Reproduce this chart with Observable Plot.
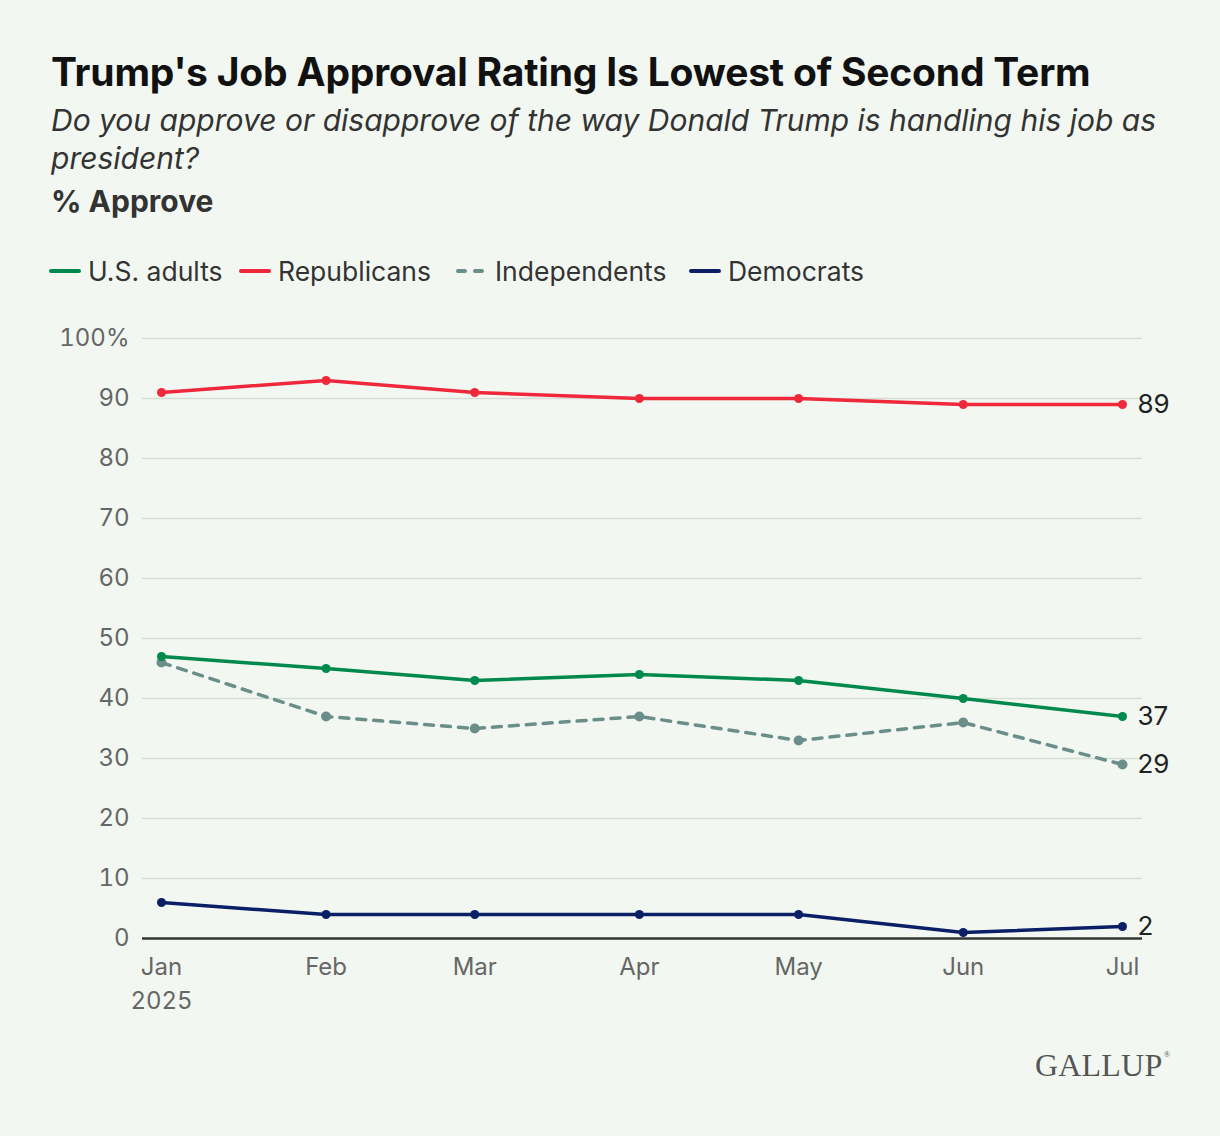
<!DOCTYPE html>
<html>
<head>
<meta charset="utf-8">
<script src="https://cdn.jsdelivr.net/npm/d3@7"></script>
<script src="https://cdn.jsdelivr.net/npm/@observablehq/plot@0.6"></script>
<style>
  html, body { margin: 0; padding: 0; background: #f2f8f1; }
  #root { position: relative; width: 1220px; height: 1136px; background: #f2f8f1; font-family: Inter, "Noto Sans", sans-serif; overflow: hidden; }
  .title { position: absolute; left: 51px; top: 48px; font-size: 39px; font-weight: 700; color: #111; letter-spacing: -0.2px; white-space: nowrap; }
  .subtitle { position: absolute; left: 51px; top: 101px; font-size: 30px; font-style: italic; color: #333; line-height: 38px; width: 1140px; }
  .unit { position: absolute; left: 51px; top: 183px; font-size: 30px; font-weight: 700; color: #333; }
  .legend { position: absolute; left: 0; top: 254px; width: 1220px; height: 34px; font-size: 26.5px; color: #333; }
  .legend .item { position: absolute; top: 0; height: 34px; display: flex; align-items: center; white-space: nowrap; }
  .legend svg { margin-right: 7px; }
  #chart { position: absolute; left: 0; top: 310px; }
  .logo { position: absolute; left: 1035px; top: 1047px; font-family: "Liberation Serif", "DejaVu Serif", serif; font-size: 32px; color: #555; letter-spacing: 0.2px; }
  .logo sup { font-size: 9px; vertical-align: 19px; margin-left: 1px; }
</style>
</head>
<body>
<div id="root">
  <div class="title">Trump's Job Approval Rating Is Lowest of Second Term</div>
  <div class="subtitle">Do you approve or disapprove of the way Donald Trump is handling his job as president?</div>
  <div class="unit">% Approve</div>
  <div class="legend" id="legend"></div>
  <div id="chart"></div>
  <div class="logo">GALLUP<sup>®</sup></div>
</div>
<script>
const months = ["2025-01-01","2025-02-01","2025-03-01","2025-04-01","2025-05-01","2025-06-01","2025-07-01"];
const monthLabels = ["Jan","Feb","Mar","Apr","May","Jun","Jul"];
const yearLabel = "2025";
const usAdults = [47,45,43,44,43,40,37];
const republicans = [91,93,91,90,90,89,89];
const independents = [46,37,35,37,33,36,29];
const democrats = [6,4,4,4,4,1,2];
const seriesNames = ["U.S. adults","Republicans","Independents","Democrats"];
const seriesColors = ["#00894c","#f0283b","#6a8f8a","#0b1f66"];
const yTicks = [0,10,20,30,40,50,60,70,80,90,100];
const legendLeft = [49, 239, 456, 689];

const seriesValues = [usAdults, republicans, independents, democrats];
const dates = months.map(d => new Date(d + "T00:00:00Z"));
const data = [];
seriesNames.forEach((name, si) => {
  seriesValues[si].forEach((v, i) => data.push({series: name, date: dates[i], value: v, idx: i}));
});
const last = data.filter(d => d.idx === months.length - 1);

// Legend
const legend = document.getElementById("legend");
seriesNames.forEach((name, i) => {
  const item = document.createElement("div");
  item.className = "item";
  item.style.left = legendLeft[i] + "px";
  const dashed = name === "Independents";
  item.innerHTML = `<svg width="32" height="8"><line x1="2" x2="30" y1="4" y2="4" stroke="${seriesColors[i]}" stroke-width="4" stroke-linecap="round" ${dashed ? 'stroke-dasharray="7,10"' : ''}/></svg><span>${name}</span>`;
  legend.appendChild(item);
});

const fmtMonth = d => {
  const i = dates.findIndex(x => +x === +d);
  return i === 0 ? monthLabels[0] + "\n" + yearLabel : monthLabels[i];
};

const solid = data.filter(d => d.series !== "Independents");
const dashedData = data.filter(d => d.series === "Independents");

const chart = Plot.plot({
  width: 1220,
  height: 720,
  marginLeft: 142,
  marginRight: 78,
  marginTop: 28,
  marginBottom: 92,
  style: {background: "transparent", fontFamily: "Inter, 'Noto Sans', sans-serif", fontSize: "24px", color: "#666", overflow: "visible"},
  x: {type: "utc", domain: [dates[0], dates[dates.length - 1]], insetLeft: 19, insetRight: 20},
  y: {domain: [0, 100]},
  color: {domain: seriesNames, range: seriesColors},
  marks: [
    Plot.ruleY(yTicks.filter(d => d > 0), {stroke: "#d5ddd5", strokeWidth: 1.5}),
    Plot.axisY({ticks: yTicks, tickSize: 0, tickPadding: 13, tickFormat: d => d === 100 ? "100%" : String(d), fill: "#666", fontSize: 24, label: null}),
    Plot.axisX({ticks: dates, tickSize: 0, tickPadding: 13, tickFormat: fmtMonth, lineHeight: 1.4, fill: "#666", fontSize: 24, label: null}),
    Plot.ruleY([0], {stroke: "#333", strokeWidth: 2.5}),
    Plot.lineY(dashedData, {x: "date", y: "value", stroke: "series", strokeWidth: 3.5, strokeDasharray: "9,8"}),
    Plot.dot(dashedData, {x: "date", y: "value", fill: "series", r: 5}),
    Plot.lineY(solid, {x: "date", y: "value", z: "series", stroke: "series", strokeWidth: 3.5}),
    Plot.dot(solid, {x: "date", y: "value", fill: "series", r: 4.5}),
    Plot.text(last, {x: "date", y: "value", text: d => String(d.value), dx: 15, textAnchor: "start", fill: "#222", fontSize: 26})
  ]
});
document.getElementById("chart").appendChild(chart);
</script>
</body>
</html>
